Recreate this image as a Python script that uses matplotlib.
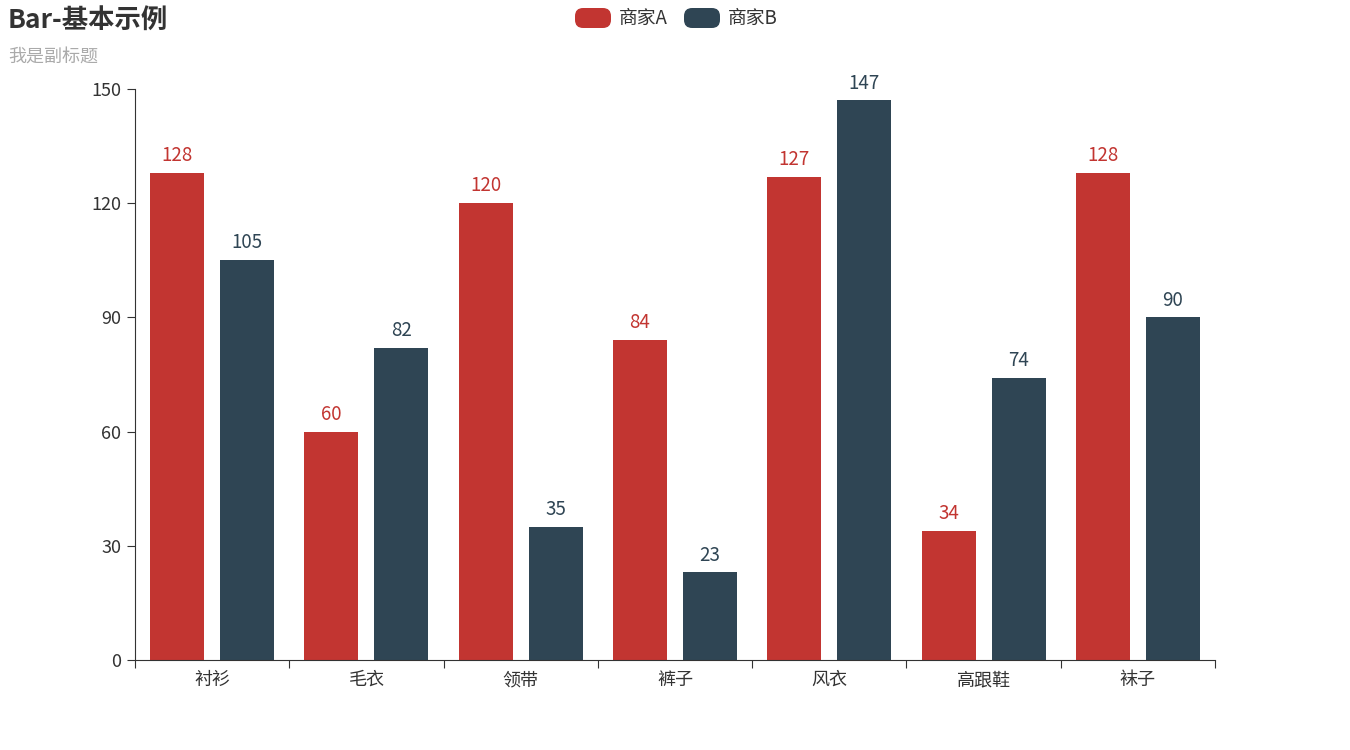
import matplotlib.pyplot as plt
import numpy as np
from matplotlib.patches import FancyBboxPatch

plt.rcParams['font.family'] = ['Noto Sans CJK SC', 'DejaVu Sans']

categories = ['衬衫', '毛衣', '领带', '裤子', '风衣', '高跟鞋', '袜子']
series_names = ['商家A', '商家B']
values_a = [128, 60, 120, 84, 127, 34, 128]
values_b = [105, 82, 35, 23, 147, 74, 90]
colors = ['#c23531', '#2f4554']


def main():
    fig = plt.figure(figsize=(13.5, 7.5), dpi=100)
    ax = fig.add_axes([0.1, 0.12, 0.8, 0.7613])

    x = np.arange(len(categories))
    width = 0.35
    offset = 0.227
    for vals, color, shift in [(values_a, colors[0], -offset), (values_b, colors[1], offset)]:
        bars = ax.bar(x + shift, vals, width=width, color=color)
        for b, v in zip(bars, vals):
            ax.text(b.get_x() + b.get_width() / 2, v + 1.8, str(v), ha='center', va='bottom',
                    color=color, fontsize=13.5)

    ax.set_xlim(-0.5, len(categories) - 0.5)
    ax.set_ylim(0, 150)
    ax.set_yticks([0, 30, 60, 90, 120, 150])

    # category ticks at boundaries, labels at centers
    ax.set_xticks(np.arange(len(categories) + 1) - 0.5)
    ax.set_xticklabels([])
    ax.set_xticks(x, minor=True)
    ax.set_xticklabels(categories, minor=True)
    ax.tick_params(axis='x', which='minor', length=0, pad=8, labelsize=13, labelcolor='#333333')
    ax.tick_params(axis='x', which='major', length=6, color='#333333')
    ax.tick_params(axis='y', length=6, color='#333333', labelsize=13, labelcolor='#333333', pad=4)

    for s in ['top', 'right']:
        ax.spines[s].set_visible(False)
    for s in ['left', 'bottom']:
        ax.spines[s].set_color('#333333')

    fig.text(8 / 1350, 1 - 20 / 750, 'Bar-基本示例', fontsize=19, fontweight='bold',
             color='#333333', va='center', ha='left')
    fig.text(8 / 1350, 1 - 57 / 750, '我是副标题', fontsize=13, color='#aaaaaa',
             va='center', ha='left')

    # legend
    W, H = 1350, 750
    lx = [575, 684]
    for i, name in enumerate(series_names):
        patch = FancyBboxPatch((lx[i] / W, 1 - 28 / H), 36 / W, 20 / H,
                               boxstyle='round,pad=0,rounding_size=0.006',
                               transform=fig.transFigure, facecolor=colors[i],
                               edgecolor='none', mutation_aspect=W / H)
        fig.add_artist(patch)
        fig.text((lx[i] + 44) / W, 1 - 18 / H, name, fontsize=13.5, color='#333333',
                 va='center', ha='left')

    fig.savefig('out.png', dpi=100)


if __name__ == "__main__":
    main()
